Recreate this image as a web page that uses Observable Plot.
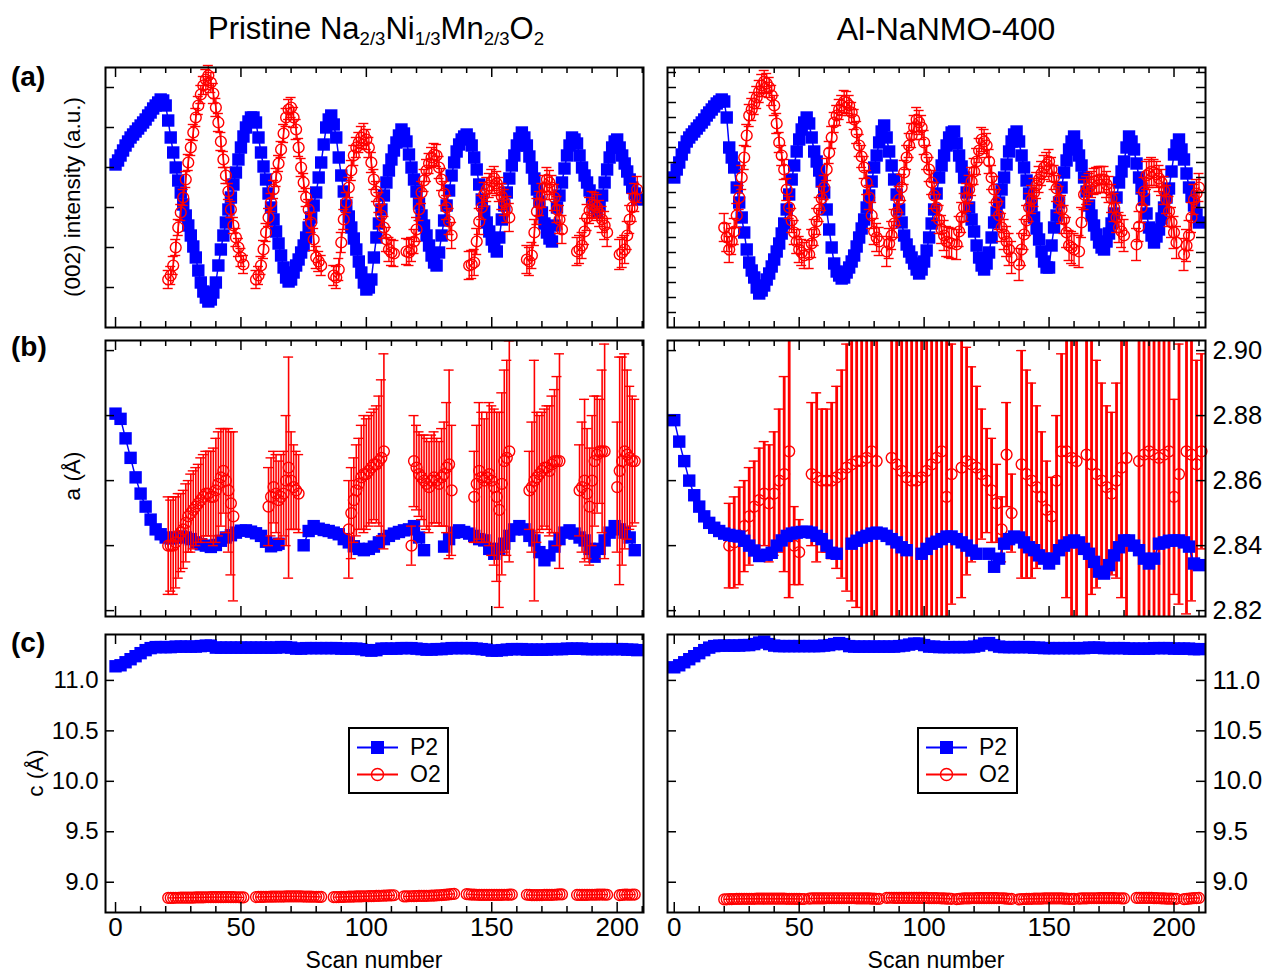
<!DOCTYPE html>
<html><head><meta charset="utf-8">
<script src="https://cdn.jsdelivr.net/npm/d3@7"></script>
<script src="https://cdn.jsdelivr.net/npm/@observablehq/plot@0.6"></script>
<style>
body{margin:0;background:#fff;}
#page{position:relative;width:1264px;height:976px;font-family:"Liberation Sans",Arial,sans-serif;color:#000;overflow:hidden;background:#fff;}
.abs{position:absolute;white-space:nowrap;}
sub{font-size:0.6em;vertical-align:-0.32em;line-height:0;}
.rot{transform:translate(-50%,-50%) rotate(-90deg);}
.legend{border:2px solid #000;background:#fff;box-sizing:border-box;}
</style></head><body><div id="page"></div>
<script>
// ---------- tick values ----------
const xMajor = [0, 50, 100, 150, 200];
const xMinor = [10, 20, 30, 40, 60, 70, 80, 90, 110, 120, 130, 140, 160, 170, 180, 190, 210];
const intTicksLeft = [40, 80, 120, 160, 200, 240];
const intTicksRight = [15, 30, 45, 60, 75, 90, 105, 120, 135, 150, 165, 180, 195, 210, 225, 240, 255];
const aTicks = [2.82, 2.84, 2.86, 2.88, 2.90];
const cTicks = [9.0, 9.5, 10.0, 10.5, 11.0];

// ---------- (a) (002) intensity, a.u. : [scan, value] / [scan, value, error] ----------
const pristineIntP2 = [[0,163],[1,167],[2,172],[3,177],[4,182],[5,186],[6,190],[7,193],[8,196],[9,199],[10,202],[11,205],[12,208],[13,212],[14,215],[15,219],[16,222],[17,225],[18,228],[19,227],[20,222],[21,207],[22,190],[23,175],[24,160],[25,147],[26,135],[27,123],[28,112],[29,102],[30,92],[31,81],[32,70],[33,57],[34,45],[35,36],[36,30],[37,26],[38,28],[39,35],[40,45],[41,62],[42,78],[43,92],[44,105],[45,118],[46,130],[47,143],[48,155],[49,168],[50,180],[51,191],[52,200],[53,206],[54,210],[55,210],[56,205],[57,190],[58,175],[59,161],[60,148],[61,134],[62,120],[63,108],[64,96],[65,84],[66,72],[67,60],[68,50],[69,46],[70,48],[71,55],[72,62],[73,68],[74,75],[75,82],[76,90],[77,100],[78,110],[79,122],[80,135],[81,150],[82,165],[83,183],[84,200],[85,208],[86,212],[87,203],[88,190],[89,170],[90,152],[91,136],[92,122],[93,111],[94,100],[95,89],[96,78],[97,66],[98,55],[99,45],[100,38],[101,40],[102,48],[103,70],[104,90],[105,104],[106,118],[107,132],[108,145],[109,157],[110,168],[111,177],[112,185],[113,192],[114,198],[115,194],[116,186],[117,173],[118,160],[119,148],[120,136],[121,124],[122,112],[123,102],[124,92],[125,82],[126,72],[127,65],[128,62],[129,75],[130,92],[131,107],[132,122],[133,137],[134,152],[135,165],[136,176],[137,183],[138,188],[139,191],[140,193],[141,189],[142,182],[143,170],[144,158],[145,143],[146,128],[147,116],[148,105],[149,96],[150,88],[151,81],[152,76],[153,90],[154,108],[155,122],[156,135],[157,149],[158,162],[159,172],[160,182],[161,189],[162,195],[163,190],[164,182],[165,171],[166,160],[167,149],[168,138],[169,126],[170,115],[171,104],[172,95],[173,89],[174,86],[175,102],[176,120],[177,132],[178,145],[179,159],[180,172],[181,182],[182,190],[183,188],[184,184],[185,172],[186,160],[187,152],[188,145],[189,137],[190,130],[191,122],[192,115],[193,122],[194,132],[195,145],[196,158],[197,170],[198,180],[199,186],[200,188],[201,180],[202,172],[203,164],[204,156],[205,148],[206,140],[207,134],[208,128]];
const pristineIntO2 = [[21,48,9],[22,52,9],[23,62,9],[24,80,8],[25,100,8],[26,115,8],[27,130,8],[28,148,8],[29,165,8],[30,180,8],[31,195,8],[32,210,9],[33,222,9],[34,233,9],[35,242,9],[36,248,10],[37,252,10],[38,245,10],[39,234,10],[40,220,9],[41,205,9],[42,186,9],[43,168,8],[44,152,8],[45,136,8],[46,118,8],[47,102,8],[48,90,9],[49,80,9],[50,70,9],[51,63,9],[53,null],
[56,48,9],[57,52,9],[58,62,9],[59,78,9],[60,95,9],[61,110,9],[62,125,9],[63,138,9],[64,150,9],[65,164,8],[66,178,8],[67,194,9],[68,210,9],[69,218,10],[70,220,10],[71,210,10],[72,198,10],[73,180,9],[74,160,9],[75,145,9],[76,130,9],[77,118,10],[78,105,10],[79,88,11],[80,70,11],[81,66,10],[82,62,10],[84,null],
[87,52,10],[88,50,11],[89,58,11],[90,85,10],[91,108,10],[92,125,10],[93,140,10],[94,157,10],[95,172,10],[96,180,10],[97,185,10],[98,190,11],[99,193,11],[100,188,10],[101,180,10],[102,165,10],[103,148,10],[104,136,10],[105,125,10],[106,112,11],[107,100,11],[108,88,12],[109,78,12],[110,75,13],[111,74,13],[113,null],
[116,76,13],[117,75,13],[118,78,12],[119,86,12],[120,98,12],[121,118,11],[122,135,11],[123,147,11],[124,157,11],[125,164,10],[126,170,10],[127,173,11],[128,172,11],[129,160,11],[130,148,11],[131,134,12],[132,120,12],[133,106,13],[134,92,13],[136,null],
[141,62,14],[142,63,14],[143,65,13],[144,86,13],[145,106,13],[146,120,12],[147,133,12],[148,138,12],[149,142,12],[150,146,12],[151,149,12],[152,144,12],[153,138,12],[154,131,13],[155,125,13],[156,118,13],[157,110,14],[159,null],
[164,68,14],[165,66,14],[166,72,13],[167,95,13],[168,116,13],[169,124,12],[170,132,12],[171,140,12],[172,148,12],[173,145,12],[174,140,12],[175,130,13],[176,118,13],[177,108,14],[178,98,14],[180,null],
[184,76,14],[185,78,14],[186,82,13],[187,96,13],[188,110,13],[189,117,13],[190,123,13],[191,122,13],[192,120,13],[193,114,13],[194,108,13],[195,102,14],[196,95,14],[198,null],
[201,73,15],[202,75,15],[203,78,14],[204,92,14],[205,108,14],[206,120,14],[207,130,14],[208,138,13]];
const alIntP2 = [[0,150],[1,158],[2,165],[3,173],[4,180],[5,186],[6,190],[7,193],[8,196],[9,199],[10,202],[11,205],[12,208],[13,212],[14,215],[15,218],[16,221],[17,224],[18,226],[19,228],[20,226],[21,210],[22,180],[23,170],[24,160],[25,140],[26,125],[27,110],[28,95],[29,78],[30,65],[31,57],[32,50],[33,40],[34,34],[35,37],[36,42],[37,48],[38,54],[39,61],[40,68],[41,76],[42,84],[43,94],[44,104],[45,118],[46,133],[47,148],[48,162],[49,176],[50,188],[51,198],[52,205],[53,210],[54,204],[55,190],[56,176],[57,166],[58,157],[59,146],[60,135],[61,118],[62,98],[63,80],[64,64],[65,56],[66,52],[67,49],[68,50],[69,55],[70,60],[71,66],[72,72],[73,81],[74,90],[75,99],[76,108],[77,120],[78,132],[79,146],[80,160],[81,172],[82,185],[83,196],[84,202],[85,190],[86,176],[87,162],[88,148],[89,133],[90,118],[91,105],[92,92],[93,83],[94,76],[95,70],[96,64],[97,58],[98,54],[99,58],[100,66],[101,77],[102,90],[103,104],[104,118],[105,134],[106,150],[107,162],[108,172],[109,182],[110,190],[111,195],[112,196],[113,184],[114,172],[115,161],[116,150],[117,135],[118,120],[119,108],[120,96],[121,82],[122,70],[123,62],[124,58],[125,64],[126,75],[127,90],[128,105],[129,115],[130,125],[131,138],[132,150],[133,163],[134,176],[135,186],[136,193],[137,196],[138,186],[139,172],[140,160],[141,147],[142,134],[143,122],[144,110],[145,99],[146,88],[147,76],[148,66],[149,60],[150,60],[151,82],[152,100],[153,112],[154,125],[155,140],[156,155],[157,167],[158,178],[159,186],[160,191],[161,182],[162,172],[163,162],[164,150],[165,136],[166,122],[167,112],[168,102],[169,93],[170,85],[171,80],[172,78],[173,86],[174,94],[175,104],[176,114],[177,130],[178,145],[179,156],[180,166],[181,180],[182,191],[183,186],[184,178],[185,164],[186,150],[187,139],[188,128],[189,114],[190,100],[191,92],[192,85],[193,91],[194,98],[195,109],[196,120],[197,130],[198,139],[199,156],[200,173],[201,182],[202,188],[203,178],[204,168],[205,154],[206,140],[207,131],[208,122],[209,113],[210,105]];
const alIntO2 = [[20,100,14],[21,90,14],[22,78,13],[23,86,13],[24,96,13],[25,112,12],[26,130,12],[27,150,12],[28,170,12],[29,192,11],[30,212,11],[31,218,11],[32,224,11],[33,230,11],[34,236,11],[35,242,11],[36,246,11],[37,244,10],[38,240,10],[39,232,10],[40,222,10],[41,204,10],[42,185,10],[43,172,10],[44,158,10],[45,138,11],[46,120,11],[47,107,12],[48,95,12],[49,86,12],[50,78,13],[51,75,13],[52,72,13],[53,null],
[54,73,14],[55,84,14],[56,95,13],[57,106,13],[58,118,12],[59,129,12],[60,140,12],[61,158,11],[62,175,11],[63,190,11],[64,205,10],[65,212,10],[66,218,10],[67,222,10],[68,226,11],[69,225,11],[70,222,10],[71,215,10],[72,208,10],[73,195,11],[74,182,11],[75,171,11],[76,160,11],[77,145,12],[78,130,12],[79,112,13],[80,96,13],[81,90,14],[82,86,14],[84,null],
[85,76,15],[86,84,15],[87,92,14],[88,104,14],[89,115,13],[90,128,13],[91,140,13],[92,155,12],[93,170,12],[94,182,12],[95,192,12],[96,200,12],[97,208,12],[98,205,12],[99,200,12],[100,185,12],[101,170,12],[102,158,12],[103,145,12],[104,132,13],[105,120,13],[106,108,14],[107,98,14],[108,92,15],[109,86,15],[110,85,15],[111,84,15],[112,null],
[113,83,15],[114,96,15],[115,110,15],[116,120,14],[117,130,14],[118,138,14],[119,146,14],[120,156,13],[121,166,13],[122,177,12],[123,188,12],[124,186,12],[125,182,12],[126,166,12],[127,150,12],[128,138,13],[129,125,13],[130,112,14],[131,100,14],[132,93,15],[133,86,15],[134,78,16],[135,70,16],[137,null],
[138,63,16],[139,78,16],[140,93,15],[141,107,15],[142,120,14],[143,128,14],[144,135,14],[145,142,13],[146,148,13],[147,154,12],[148,160,12],[149,163,12],[150,166,12],[151,158,12],[152,150,12],[153,139,13],[154,128,13],[155,118,14],[156,108,14],[157,95,15],[158,82,15],[159,80,16],[160,78,16],[161,null],
[162,76,16],[163,105,15],[164,133,15],[165,137,14],[166,140,14],[167,143,13],[168,146,13],[169,147,13],[170,148,13],[171,148,13],[172,148,13],[173,143,13],[174,138,13],[175,129,14],[176,120,14],[177,110,15],[178,100,15],[179,96,16],[180,92,16],[183,null],
[185,83,16],[186,101,15],[187,120,15],[188,136,14],[189,152,14],[190,154,14],[191,156,14],[192,155,13],[193,153,13],[194,149,13],[195,145,13],[196,137,14],[197,128,14],[198,116,15],[199,105,15],[200,95,16],[201,85,16],[203,null],
[204,73,16],[205,82,16],[206,92,15],[207,110,15],[208,128,15],[209,134,14],[210,140,14]];

// ---------- (b) a lattice parameter (Å) ----------
const pristineAP2 = [[0,2.8806],[2,2.879],[4,2.873],[6,2.867],[8,2.861],[10,2.856],[12,2.852],[14,2.848],[16,2.845],[18,2.8435],[20,2.8425],[22,2.8422],[24,2.8425],[26,2.8428],[28,2.8425],[30,2.842],[32,2.841],[34,2.8404],[36,2.84],[38,2.8396],[40,2.8402],[42,2.8415],[44,2.8425],[46,2.8432],[48,2.844],[50,2.8446],[52,2.8447],[54,2.8443],[56,2.8438],[58,2.843],[60,2.8412],[62,2.8398],[64,2.8402],[65,2.8406],[66,null],[75,2.8401],[77,2.8445],[79,2.846],[81,2.8452],[83,2.8448],[85,2.8445],[87,2.844],[89,2.8435],[91,2.842],[93,2.841],[95,2.8398],[97,2.839],[99,2.8386],[101,2.839],[103,2.8397],[105,2.841],[107,2.842],[109,2.843],[111,2.8437],[113,2.8442],[115,2.8447],[117,2.845],[119,2.846],[121,2.8425],[123,2.8386],[124,null],[131,2.8397],[133,2.842],[135,2.844],[137,2.8447],[139,2.8442],[141,2.8437],[143,2.843],[145,2.842],[147,2.8416],[149,2.839],[151,2.8375],[153,2.839],[155,2.8406],[157,2.843],[159,2.845],[161,2.846],[163,2.845],[165,2.843],[167,2.8416],[169,2.838],[171,2.8355],[173,2.837],[175,2.8397],[177,2.842],[179,2.844],[181,2.8447],[183,2.8437],[185,2.8425],[187,2.8416],[189,2.839],[191,2.8366],[193,2.839],[195,2.8416],[197,2.844],[199,2.846],[201,2.845],[203,2.844],[205,2.8425],[207,2.8386]];
const pristineAO2 = [[21,2.840,.015],[22,2.840,.014],[23,2.840,.015],[24,2.841,.014],[25,2.843,.013],[26,2.844,.012],[27,2.845,.012],[28,2.847,.012],[29,2.849,.011],[30,2.850,.012],[31,2.851,.012],[32,2.852,.012],[33,2.853,.012],[34,2.854,.013],[35,2.855,.013],[36,2.856,.013],[37,2.856,.013],[38,2.855,.014],[39,2.855,.015],[40,2.857,.016],[41,2.859,.016],[42,2.861,.015],[43,2.863,.013],[44,2.860,.016],[45,2.857,.019],[46,2.853,.022],[47,2.849,.026],
[61,2.852,.012],[62,2.855,.012],[63,2.858,.011],[64,2.856,.012],[65,2.854,.012],[66,2.855,.013],[67,2.856,.013],[68,2.860,.02],[69,2.864,.034],[70,2.860,.015],[71,2.858,.013],[72,2.857,.012],[73,2.856,.012],
[93,2.845,.015],[94,2.850,.014],[95,2.854,.013],[96,2.857,.014],[97,2.859,.014],[98,2.861,.016],[99,2.862,.018],[100,2.862,.017],[101,2.863,.017],[102,2.864,.017],[103,2.865,.017],[104,2.865,.018],[105,2.866,.02],[106,2.867,.024],[107,2.869,.03],
[118,2.840,.006],[119,2.866,.014],[120,2.864,.013],[121,2.862,.013],[122,2.861,.013],[123,2.860,.014],[124,2.859,.014],[125,2.858,.014],[126,2.860,.014],[127,2.861,.014],[128,2.860,.013],[129,2.859,.013],[130,2.861,.015],[131,2.862,.016],[132,2.864,.02],[133,2.865,.029],[134,2.857,.02],
[143,2.855,.014],[144,2.859,.018],[145,2.863,.021],[146,2.861,.02],[147,2.860,.019],[148,2.861,.02],[149,2.862,.022],[150,2.860,.023],[151,2.858,.024],[152,2.855,.026],[153,2.851,.030],[154,2.859,.028],[155,2.866,.028],[156,2.867,.03],[157,2.869,.034],
[165,2.857,.012],[166,2.858,.02],[167,2.860,.037],[168,2.861,.02],[169,2.862,.018],[170,2.863,.018],[171,2.864,.018],[172,2.864,.019],[173,2.863,.02],[174,2.865,.021],[175,2.866,.022],[176,2.866,.026],[177,2.866,.033],
[185,2.857,.014],[186,2.858,.02],[187,2.860,.025],[188,2.856,.02],[189,2.852,.018],[190,2.860,.02],[191,2.866,.02],[192,2.868,.018],[193,2.869,.016],[194,2.869,.025],[195,2.869,.033],
[200,2.858,.02],[201,2.863,.035],[202,2.866,.032],[203,2.869,.03],[204,2.868,.026],[205,2.867,.022],[206,2.866,.02],[207,2.866,.019]];
const alAP2 = [[0,2.8786],[2,2.872],[4,2.866],[6,2.860],[8,2.8555],[10,2.852],[12,2.849],[14,2.847],[16,2.8455],[18,2.8445],[20,2.8437],[22,2.8433],[24,2.843],[26,2.8428],[28,2.8415],[30,2.840],[32,2.8385],[34,2.8368],[35,null],[37,2.8372],[39,2.8378],[41,2.840],[43,2.8416],[45,2.843],[47,2.8437],[49,2.844],[51,2.8442],[53,2.8443],[55,2.844],[57,2.843],[59,2.842],[61,2.840],[63,2.8378],[65,2.8375],[66,null],[71,2.8406],[73,2.8415],[75,2.8425],[77,2.843],[79,2.8437],[81,2.844],[83,2.8437],[85,2.843],[87,2.842],[89,2.841],[91,2.8395],[93,2.8386],[94,null],[99,2.8375],[101,2.839],[103,2.8406],[105,2.8412],[107,2.842],[109,2.8428],[111,2.8428],[113,2.842],[115,2.841],[117,2.840],[119,2.8385],[121,2.8375],[122,null],[126,2.8375],[128,2.8335],[130,2.836],[132,2.8406],[134,2.842],[136,2.8428],[138,2.8425],[140,2.841],[142,2.8395],[144,2.8386],[146,2.837],[148,2.836],[150,2.8345],[152,2.836],[154,2.8386],[156,2.840],[158,2.841],[160,2.8416],[162,2.841],[164,2.839],[166,2.8375],[168,2.835],[170,2.832],[172,2.8314],[174,2.834],[176,2.837],[178,2.8395],[180,2.8416],[182,2.8416],[184,2.840],[186,2.8386],[188,2.836],[190,2.8345],[192,2.836],[194,2.8406],[196,2.841],[198,2.8415],[200,2.8416],[202,2.8416],[204,2.841],[206,2.8397],[208,2.8345],[210,2.834]];
const alAO2 = [[22,2.840,.013],[24,2.841,.014],[26,2.843,.015],[28,2.846,.014],[30,2.849,.015],[32,2.852,.014],[34,2.854,.016],[36,2.856,.016],[38,2.853,.018],[40,2.856,.019],[42,2.860,.022],[44,2.862,.03],[46,2.869,.045],[48,2.840,.012],[50,2.838,.01],
[55,2.862,.022],[57,2.861,.026],[59,2.860,.022],[61,2.860,.022],[63,2.860,.024],[65,2.861,.028],[67,2.862,.032],[69,2.864,.038],[71,2.865,.042],[73,2.866,.045],[75,2.866,.05],[77,2.867,.055],[79,2.869,.06],[81,2.866,.05],
[87,2.867,.06],[89,2.865,.06],[91,2.863,.065],[93,2.861,.07],[95,2.860,.07],[97,2.860,.07],[99,2.861,.07],[101,2.863,.07],[103,2.865,.07],[105,2.867,.07],[107,2.869,.07],[109,2.855,.06],[111,2.862,.04],
[115,2.864,.04],[117,2.866,.035],[119,2.865,.03],[121,2.864,.025],[123,2.862,.02],[125,2.860,.016],[127,2.857,.016],[129,2.853,.012],[131,2.845,.01],[133,2.868,.016],[135,2.850,.012],
[139,2.865,.035],[141,2.862,.032],[143,2.860,.03],[145,2.858,.025],[147,2.855,.02],[149,2.851,.015],[151,2.849,.012],[153,2.860,.02],[155,2.869,.03],[157,2.869,.045],[159,2.867,.06],[161,2.866,.06],
[165,2.868,.05],[167,2.865,.04],[169,2.862,.035],[171,2.860,.03],[173,2.858,.025],[175,2.856,.025],[177,2.860,.03],[179,2.864,.04],[181,2.867,.05],
[186,2.866,.06],[188,2.868,.06],[190,2.869,.065],[192,2.868,.065],[194,2.867,.06],[196,2.868,.06],[198,2.869,.055],[200,2.855,.03],[202,2.862,.04],
[205,2.869,.05],[207,2.868,.045],[209,2.865,.032],[211,2.869,.03]];

// ---------- (c) c lattice parameter (Å) ----------
const pristineCP2 = [[0,11.14],[2,11.15],[4,11.18],[6,11.21],[8,11.24],[10,11.27],[12,11.30],[14,11.32],[16,11.33],[18,11.33],[20,11.33],[22,11.33],[24,11.335],[26,11.335],[28,11.335],[30,11.335],[32,11.335],[34,11.34],[36,11.345],[38,11.345],[40,11.325],[42,11.325],[44,11.325],[46,11.325],[48,11.325],[50,11.325],[52,11.325],[54,11.325],[56,11.325],[58,11.325],[60,11.325],[62,11.325],[64,11.325],[66,11.33],[68,11.33],[70,11.325],[72,11.315],[74,11.315],[76,11.32],[78,11.32],[80,11.32],[82,11.32],[84,11.32],[86,11.32],[88,11.32],[90,11.315],[92,11.315],[94,11.315],[96,11.315],[98,11.31],[100,11.30],[102,11.295],[104,11.30],[106,11.315],[108,11.315],[110,11.315],[112,11.315],[114,11.32],[116,11.32],[118,11.32],[120,11.315],[122,11.31],[124,11.305],[126,11.305],[128,11.31],[130,11.31],[132,11.315],[134,11.32],[136,11.32],[138,11.32],[140,11.32],[142,11.32],[144,11.315],[146,11.31],[148,11.305],[150,11.295],[152,11.295],[154,11.30],[156,11.305],[158,11.31],[160,11.31],[162,11.31],[164,11.305],[166,11.305],[168,11.305],[170,11.305],[172,11.305],[174,11.31],[176,11.31],[178,11.31],[180,11.315],[182,11.315],[184,11.315],[186,11.315],[188,11.31],[190,11.31],[192,11.31],[194,11.31],[196,11.31],[198,11.31],[200,11.31],[202,11.31],[204,11.305],[206,11.305],[208,11.30]];
const pristineCO2 = [[21,8.845],[22,8.845],[23,8.845],[24,8.846],[25,8.846],[26,8.847],[27,8.847],[28,8.848],[29,8.848],[30,8.848],[31,8.848],[32,8.849],[33,8.849],[34,8.85],[35,8.85],[36,8.851],[37,8.851],[38,8.852],[39,8.852],[40,8.852],[41,8.852],[42,8.852],[43,8.852],[44,8.853],[45,8.853],[46,8.852],[47,8.852],[48,8.851],[49,8.851],[50,8.85],[51,8.85],[52,null],
[56,8.853],[57,8.854],[58,8.855],[59,8.855],[60,8.856],[61,8.856],[62,8.857],[63,8.857],[64,8.858],[65,8.858],[66,8.858],[67,8.858],[68,8.859],[69,8.86],[70,8.86],[71,8.86],[72,8.86],[73,8.86],[74,8.859],[75,8.858],[76,8.858],[77,8.857],[78,8.857],[79,8.856],[80,8.856],[81,8.855],[82,8.855],[84,null],
[87,8.852],[88,8.852],[89,8.853],[90,8.854],[91,8.855],[92,8.856],[93,8.857],[94,8.857],[95,8.858],[96,8.859],[97,8.86],[98,8.86],[99,8.861],[100,8.861],[101,8.862],[102,8.862],[103,8.863],[104,8.864],[105,8.865],[106,8.866],[107,8.867],[108,8.868],[109,8.869],[110,8.87],[111,8.871],[113,null],
[115,8.86],[116,8.86],[117,8.861],[118,8.861],[119,8.862],[120,8.863],[121,8.864],[122,8.864],[123,8.865],[124,8.865],[125,8.866],[126,8.867],[127,8.868],[128,8.869],[129,8.871],[130,8.873],[131,8.875],[132,8.877],[133,8.88],[134,8.883],[135,8.885],[137,null],
[140,8.882],[141,8.88],[142,8.878],[143,8.877],[144,8.876],[145,8.875],[146,8.875],[147,8.874],[148,8.874],[149,8.874],[150,8.874],[151,8.874],[152,8.875],[153,8.875],[154,8.875],[155,8.876],[156,8.876],[157,8.877],[158,8.878],[160,null],
[164,8.876],[165,8.874],[166,8.872],[167,8.872],[168,8.872],[169,8.873],[170,8.873],[171,8.874],[172,8.874],[173,8.874],[174,8.875],[175,8.876],[176,8.878],[177,8.879],[178,8.88],[180,null],
[184,8.874],[185,8.874],[186,8.874],[187,8.875],[188,8.875],[189,8.876],[190,8.876],[191,8.876],[192,8.877],[193,8.878],[194,8.878],[195,8.877],[196,8.876],[198,null],
[201,8.872],[202,8.875],[203,8.878],[204,8.877],[205,8.876],[206,8.877],[207,8.878]];
const alCP2 = [[0,11.13],[2,11.15],[4,11.18],[6,11.21],[8,11.24],[10,11.27],[12,11.30],[14,11.325],[16,11.34],[18,11.345],[20,11.345],[22,11.345],[24,11.345],[26,11.345],[28,11.35],[30,11.35],[32,11.36],[34,11.375],[36,11.385],[38,11.36],[40,11.345],[42,11.34],[44,11.34],[46,11.34],[48,11.34],[50,11.34],[52,11.34],[54,11.34],[56,11.34],[58,11.34],[60,11.345],[62,11.35],[64,11.36],[66,11.37],[68,11.36],[70,11.34],[72,11.335],[74,11.335],[76,11.335],[78,11.335],[80,11.335],[82,11.335],[84,11.335],[86,11.335],[88,11.335],[90,11.34],[92,11.345],[94,11.355],[96,11.365],[98,11.365],[100,11.35],[102,11.335],[104,11.335],[106,11.33],[108,11.33],[110,11.33],[112,11.33],[114,11.33],[116,11.33],[118,11.33],[120,11.335],[122,11.345],[124,11.365],[126,11.37],[128,11.35],[130,11.335],[132,11.33],[134,11.33],[136,11.33],[138,11.33],[140,11.33],[142,11.33],[144,11.325],[146,11.325],[148,11.32],[150,11.32],[152,11.32],[154,11.32],[156,11.32],[158,11.32],[160,11.32],[162,11.32],[164,11.32],[166,11.325],[168,11.325],[170,11.325],[172,11.32],[174,11.32],[176,11.32],[178,11.32],[180,11.32],[182,11.315],[184,11.315],[186,11.315],[188,11.315],[190,11.315],[192,11.32],[194,11.32],[196,11.32],[198,11.32],[200,11.315],[202,11.315],[204,11.315],[206,11.315],[208,11.31],[210,11.31]];
const alCO2 = [[20,8.83],[21,8.831],[22,8.832],[23,8.833],[24,8.834],[25,8.835],[26,8.835],[27,8.836],[28,8.836],[29,8.836],[30,8.836],[31,8.836],[32,8.836],[33,8.837],[34,8.837],[35,8.837],[36,8.837],[37,8.837],[38,8.837],[39,8.837],[40,8.837],[41,8.837],[42,8.837],[43,8.837],[44,8.837],[45,8.836],[46,8.836],[47,8.836],[48,8.836],[49,8.835],[50,8.835],[51,8.834],[52,8.834],[53,null],
[54,8.838],[55,8.839],[56,8.84],[57,8.84],[58,8.84],[59,8.84],[60,8.84],[61,8.841],[62,8.841],[63,8.841],[64,8.841],[65,8.841],[66,8.841],[67,8.841],[68,8.841],[69,8.841],[70,8.841],[71,8.841],[72,8.841],[73,8.84],[74,8.84],[75,8.84],[76,8.84],[77,8.839],[78,8.839],[79,8.838],[80,8.838],[81,8.836],[82,8.835],[84,null],
[85,8.845],[86,8.846],[87,8.846],[88,8.845],[89,8.845],[90,8.845],[91,8.845],[92,8.845],[93,8.845],[94,8.845],[95,8.845],[96,8.844],[97,8.844],[98,8.844],[99,8.844],[100,8.844],[101,8.844],[102,8.843],[103,8.843],[104,8.842],[105,8.842],[106,8.841],[107,8.84],[108,8.839],[109,8.838],[110,8.837],[111,8.836],[112,null],
[113,8.833],[114,8.836],[115,8.838],[116,8.839],[117,8.84],[118,8.84],[119,8.841],[120,8.841],[121,8.842],[122,8.842],[123,8.842],[124,8.842],[125,8.843],[126,8.843],[127,8.843],[128,8.842],[129,8.842],[130,8.841],[131,8.841],[132,8.84],[133,8.838],[134,8.836],[135,8.835],[137,null],
[138,8.83],[139,8.832],[140,8.834],[141,8.835],[142,8.836],[143,8.836],[144,8.837],[145,8.837],[146,8.838],[147,8.838],[148,8.839],[149,8.839],[150,8.84],[151,8.84],[152,8.84],[153,8.84],[154,8.84],[155,8.839],[156,8.838],[157,8.837],[158,8.836],[159,8.835],[160,8.835],[161,null],
[162,8.838],[163,8.839],[164,8.84],[165,8.84],[166,8.841],[167,8.841],[168,8.841],[169,8.841],[170,8.842],[171,8.842],[172,8.842],[173,8.842],[174,8.842],[175,8.842],[176,8.842],[177,8.841],[178,8.841],[179,8.84],[180,8.84],[183,null],
[185,8.845],[186,8.845],[187,8.845],[188,8.845],[189,8.845],[190,8.844],[191,8.844],[192,8.843],[193,8.842],[194,8.841],[195,8.84],[196,8.839],[197,8.838],[198,8.838],[199,8.837],[200,8.836],[201,8.836],[203,null],
[204,8.833],[205,8.835],[206,8.838],[207,8.84],[208,8.842],[209,8.843],[210,8.844]];

// ---------- layout ----------
const BLUE = "#0000ff", RED = "#ff0000", FONT = "'Liberation Sans', Arial, sans-serif";
const COLS = {
  left:  {left: 0,   width: 655, ml: 105, mr: 12, x: [-4, 210.5], yFont: 24},
  right: {left: 655, width: 609, ml: 12,  mr: 59, x: [-2.7, 212.6], yFont: 25.5}
};
const ROWS = {
  a: {top: 60,  height: 270, mt: 7, mb: 3},
  b: {top: 333, height: 291, mt: 7, mb: 8},
  c: {top: 627, height: 349, mt: 7, mb: 64}
};
const page = document.getElementById("page");

const X = d => d[0], Y = d => d[1];
function p2Layers(data) {
  return [
    Plot.line(data, {x: X, y: Y, stroke: BLUE, strokeWidth: 1.5}),
    Plot.dot(data, {x: X, y: Y, symbol: "square", r: 7, fill: BLUE, stroke: "none"})
  ];
}
function o2Layers(data, {bars = true, line = true, clip = false, bw = 1.4} = {}) {
  const L = [];
  if (bars) {
    const eb = data.filter(d => d[1] != null && d[2] != null);
    L.push(Plot.ruleX(eb, {x: X, y1: d => d[1] - d[2], y2: d => d[1] + d[2], stroke: RED, strokeWidth: bw, clip}));
    L.push(Plot.ruleY(eb, {y: d => d[1] + d[2], x1: d => d[0] - 2, x2: d => d[0] + 2, stroke: RED, strokeWidth: 1.4, clip}));
    L.push(Plot.ruleY(eb, {y: d => d[1] - d[2], x1: d => d[0] - 2, x2: d => d[0] + 2, stroke: RED, strokeWidth: 1.4, clip}));
  }
  if (line) L.push(Plot.line(data, {x: X, y: Y, stroke: RED, strokeWidth: 1.4}));
  L.push(Plot.dot(data, {x: X, y: Y, r: 5.4, fill: "none", stroke: RED, strokeWidth: 1.4}));
  return L;
}

function panel(col, row, yDomain, yTicks, layers, {yLabels = false, yFormat = null, xLabels = false} = {}) {
  const C = COLS[col], R = ROWS[row];
  const W = C.width - C.ml - C.mr, H = R.height - R.mt - R.mb;
  const tk = {stroke: "#000", strokeWidth: 1.5};
  const marks = [...layers, Plot.frame({stroke: "#000", strokeWidth: 2})];
  marks.push(Plot.ruleX(xMinor, {x: d => d, insetTop: H - 6, ...tk}));
  marks.push(Plot.ruleX(xMajor, {x: d => d, insetTop: H - 10, ...tk}));
  marks.push(Plot.ruleX(xMinor, {x: d => d, insetBottom: H - 6, ...tk}));
  marks.push(Plot.ruleX(xMajor, {x: d => d, insetBottom: H - 10, ...tk}));
  marks.push(Plot.ruleY(yTicks, {y: d => d, insetRight: W - 9, ...tk}));
  if (col === "right") marks.push(Plot.ruleY(yTicks, {y: d => d, insetLeft: W - 9, ...tk}));
  if (yLabels) marks.push(Plot.axisY(yTicks, {anchor: col === "left" ? "left" : "right", tickSize: 0, tickPadding: 7, tickFormat: yFormat, label: null, fontSize: C.yFont}));
  if (xLabels) marks.push(Plot.axisX(xMajor, {anchor: "bottom", tickSize: 0, tickPadding: 5, label: null, fontSize: 26}));
  const svg = Plot.plot({
    width: C.width, height: R.height,
    marginLeft: C.ml, marginRight: C.mr, marginTop: R.mt, marginBottom: R.mb,
    x: xLabels ? {domain: C.x} : {domain: C.x, axis: null},
    y: yLabels ? {domain: yDomain} : {domain: yDomain, axis: null},
    style: {fontFamily: FONT, fontSize: "24px", background: "transparent", overflow: "visible", color: "#000"},
    marks
  });
  svg.style.position = "absolute";
  svg.style.left = C.left + "px";
  svg.style.top = R.top + "px";
  page.appendChild(svg);
}

const f2 = d3.format(".2f"), f1 = d3.format(".1f");
panel("left", "a", [0, 260], intTicksLeft, [...p2Layers(pristineIntP2), ...o2Layers(pristineIntO2)]);
panel("right", "a", [0, 260], intTicksRight, [...p2Layers(alIntP2), ...o2Layers(alIntO2)]);
panel("left", "b", [2.8182, 2.9031], aTicks, [...p2Layers(pristineAP2), ...o2Layers(pristineAO2, {line: false, clip: true, bw: 1.6})]);
panel("right", "b", [2.8182, 2.9031], aTicks, [...o2Layers(alAO2, {line: false, clip: true, bw: 2.8}), ...p2Layers(alAP2)], {yLabels: true, yFormat: f2});
panel("left", "c", [8.70, 11.455], cTicks, [...p2Layers(pristineCP2), ...o2Layers(pristineCO2, {bars: false})], {yLabels: true, yFormat: f1, xLabels: true});
panel("right", "c", [8.70, 11.455], cTicks, [...p2Layers(alCP2), ...o2Layers(alCO2, {bars: false})], {yLabels: true, yFormat: f1, xLabels: true});

// ---------- text & legends ----------
function addDiv(html, style, cls = "abs") {
  const d = document.createElement("div");
  d.className = cls;
  d.innerHTML = html;
  Object.assign(d.style, style);
  page.appendChild(d);
  return d;
}
addDiv("Pristine Na<sub>2/3</sub>Ni<sub>1/3</sub>Mn<sub>2/3</sub>O<sub>2</sub>", {left: "107px", width: "538px", top: "14px", textAlign: "center", fontSize: "31px", lineHeight: "30px"});
addDiv("Al-NaNMO-400", {left: "677px", width: "538px", top: "14px", textAlign: "center", fontSize: "32px", lineHeight: "30px"});
[["(a)", 63], ["(b)", 333], ["(c)", 629]].forEach(([t, top]) =>
  addDiv(t, {left: "11px", top: top + "px", fontSize: "28px", lineHeight: "27px", fontWeight: "bold"}));
addDiv("(002) intensity (a.u.)", {left: "73px", top: "197px", fontSize: "22.5px", lineHeight: "22px"}, "abs rot");
addDiv("a (Å)", {left: "73px", top: "476px", fontSize: "22.5px", lineHeight: "22px"}, "abs rot");
addDiv("c (Å)", {left: "36px", top: "773px", fontSize: "22.5px", lineHeight: "22px"}, "abs rot");
addDiv("Scan number", {left: "105px", width: "538px", top: "948px", textAlign: "center", fontSize: "23px", lineHeight: "24px"});
addDiv("Scan number", {left: "667px", width: "538px", top: "948px", textAlign: "center", fontSize: "23px", lineHeight: "24px"});

const legendItems = [
  {name: "P2", color: BLUE, symbol: "square"},
  {name: "O2", color: RED, symbol: "circle"}
];
function legend(left) {
  const box = addDiv("", {left: left + "px", top: "727px", width: "101px", height: "67px"}, "abs legend");
  legendItems.forEach((it, i) => {
    const row = document.createElement("div");
    Object.assign(row.style, {position: "absolute", left: "7px", top: (5 + i * 27) + "px", height: "26px", display: "flex", alignItems: "center"});
    const mk = it.symbol === "square"
      ? `<rect x="14" y="6" width="13" height="13" fill="${it.color}"/>`
      : `<circle cx="20.5" cy="12.5" r="6" fill="none" stroke="${it.color}" stroke-width="1.4"/>`;
    row.innerHTML = `<svg width="42" height="25"><line x1="0" x2="41" y1="12.5" y2="12.5" stroke="${it.color}" stroke-width="2"/>${mk}</svg>` +
      `<span style="font-size:23px;margin-left:11px;line-height:25px">${it.name}</span>`;
    box.appendChild(row);
  });
}
legend(348);
legend(917);
</script></body></html>
